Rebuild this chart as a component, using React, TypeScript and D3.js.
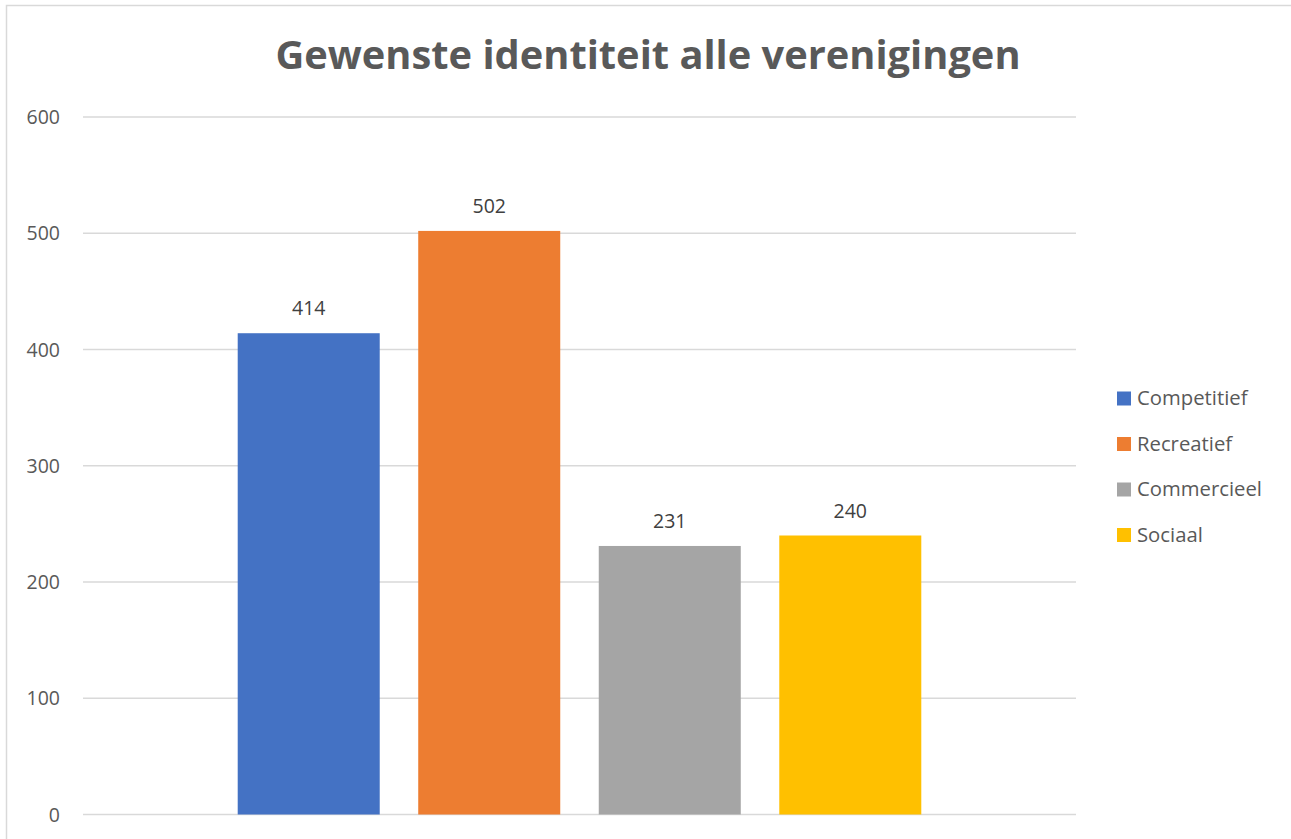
import React from "react";
import * as d3 from "d3";

const series = ["Competitief", "Recreatief", "Commercieel", "Sociaal"];
const values = [414, 502, 231, 240];
const colors = ["#4472C4", "#ED7D31", "#A5A5A5", "#FFC000"];
const yTicks = [0, 100, 200, 300, 400, 500, 600];
const title = "Gewenste identiteit alle verenigingen";

const W = 1291;
const H = 839;
const font = "'Open Sans', 'Noto Sans', sans-serif";

const App = () => {
  const plot = { left: 83, right: 1076, top: 117, bottom: 814.5 };

  const x = d3.scaleBand<string>()
    .domain(series)
    .range([plot.left, plot.right])
    .paddingInner(0.2133)
    .paddingOuter(0.857);

  const y = d3.scaleLinear().domain([0, 600]).range([plot.bottom, plot.top]);

  return (
    <svg width={W} height={H} style={{ position: "absolute", left: 0, top: 0, background: "#fff" }}>
      <rect x={6.5} y={5.5} width={W} height={H} fill="#fff" stroke="#D9D9D9" strokeWidth={1.5} />

      <text x={648} y={68.5} textAnchor="middle" fontFamily={font} fontWeight="bold"
        fontSize={39.8} fill="#595959">{title}</text>

      {yTicks.map(t => (
        <g key={t}>
          <line x1={plot.left} x2={plot.right} y1={y(t)} y2={y(t)} stroke="#D9D9D9" strokeWidth={1.5} />
          <text x={60} y={y(t) + 7} textAnchor="end" fontFamily={font} fontSize={19.5} fill="#595959">{t}</text>
        </g>
      ))}

      {series.map((s, i) => (
        <g key={s}>
          <rect x={x(s)} y={y(values[i])} width={x.bandwidth()} height={y(0) - y(values[i])} fill={colors[i]} />
          <text x={(x(s) ?? 0) + x.bandwidth() / 2} y={y(values[i]) - 18} textAnchor="middle"
            fontFamily={font} fontSize={19.5} fill="#404040">{values[i]}</text>
        </g>
      ))}

      {series.map((s, i) => (
        <g key={s} transform={`translate(1117,${398.5 + i * 45.5})`}>
          <rect x={0} y={-7} width={14} height={14} fill={colors[i]} />
          <text x={20} y={6.5} fontFamily={font} fontSize={20.3} fill="#595959">{s}</text>
        </g>
      ))}
    </svg>
  );
};

export default App;
